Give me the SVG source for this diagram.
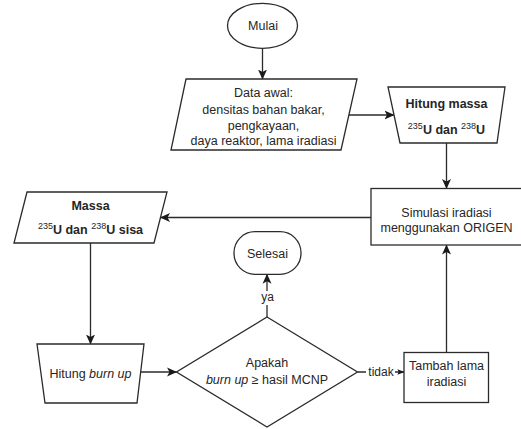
<svg xmlns="http://www.w3.org/2000/svg" width="521" height="429" viewBox="0 0 521 429">
<style>
.s{fill:#fff;stroke:#2b2b2b;stroke-width:1.3}
.c{fill:none;stroke:#2b2b2b;stroke-width:1.3}
text{font-family:"Liberation Sans",Arial,sans-serif;font-size:12.5px;fill:#262626;text-anchor:middle}
.b{font-weight:bold}
.sup{font-size:9px;font-weight:normal}
.lbl{font-size:12px}
</style>
<defs>
<marker id="ah" viewBox="0 0 10 10" refX="9.5" refY="5" markerWidth="10" markerHeight="10" markerUnits="userSpaceOnUse" orient="auto">
<path d="M0,0.5 L10,5 L0,9.5 L2.5,5 z" fill="#1a1a1a"/>
</marker>
<marker id="ahs" viewBox="0 0 10 10" refX="9.5" refY="5" markerWidth="7" markerHeight="7" markerUnits="userSpaceOnUse" orient="auto">
<path d="M0,1 L10,5 L0,9 L2,5 z" fill="#1a1a1a"/>
</marker>
</defs>
<rect width="521" height="429" fill="#fff"/>
<g id="connectors">
<line class="c" x1="262.5" y1="48.3" x2="262.5" y2="79" marker-end="url(#ah)"/>
<line class="c" x1="349" y1="115" x2="394" y2="115" marker-end="url(#ah)"/>
<line class="c" x1="446.5" y1="143" x2="446.5" y2="188.5" marker-end="url(#ah)"/>
<line class="c" x1="371" y1="217.5" x2="160.5" y2="217.5" marker-end="url(#ah)"/>
<line class="c" x1="90.5" y1="243" x2="90.5" y2="344" marker-end="url(#ah)"/>
<line class="c" x1="140.7" y1="372" x2="176.5" y2="372" marker-end="url(#ah)"/>
<line class="c" x1="267" y1="317" x2="267" y2="274.3" marker-end="url(#ah)"/>
<line class="c" x1="357.5" y1="372" x2="404" y2="372" marker-end="url(#ahs)"/>
<line class="c" x1="446.5" y1="352.5" x2="446.5" y2="245" marker-end="url(#ah)"/>
<rect x="259" y="291" width="17" height="14" fill="#fff"/>
<text class="lbl" x="267.5" y="301">ya</text>
<rect x="366" y="365" width="29" height="14" fill="#fff"/>
<text class="lbl" x="381" y="376">tidak</text>
</g>
<g id="mulai">
<ellipse class="s" cx="262.5" cy="25.8" rx="35" ry="22.5"/>
<text x="263" y="30">Mulai</text>
</g>
<g id="data-awal">
<polygon class="s" points="186,79 357,79 341,150 171,150"/>
<text x="263.5" y="97">Data awal:</text>
<text x="263.5" y="113.5">densitas bahan bakar,</text>
<text x="263.5" y="129.5">pengkayaan,</text>
<text x="263.5" y="145">daya reaktor, lama iradiasi</text>
</g>
<g id="hitung-massa">
<polygon class="s" points="388,87 505,87 497,143 400,143"/>
<text class="b" x="446.5" y="108">Hitung massa</text>
<text class="b" x="446.5" y="133.5"><tspan class="sup" dy="-5">235</tspan><tspan dy="5">U dan </tspan><tspan class="sup" dy="-5">238</tspan><tspan dy="5">U</tspan></text>
</g>
<g id="simulasi">
<rect class="s" x="371" y="188.5" width="152" height="56.5"/>
<text x="446.5" y="216.5">Simulasi iradiasi</text>
<text x="446.5" y="232">menggunakan ORIGEN</text>
</g>
<g id="massa-sisa">
<polygon class="s" points="27,192 167,192 154,243 14,243"/>
<text class="b" x="90.5" y="210">Massa</text>
<text class="b" x="90.5" y="233.5"><tspan class="sup" dy="-5">235</tspan><tspan dy="5">U dan </tspan><tspan class="sup" dy="-5">238</tspan><tspan dy="5">U sisa</tspan></text>
</g>
<g id="selesai">
<rect class="s" x="234" y="231.7" width="67" height="42.6" rx="21" ry="21"/>
<text x="267.5" y="258">Selesai</text>
</g>
<g id="hitung-burnup">
<polygon class="s" points="37,344 144,344 137,403 45,403"/>
<text x="90.5" y="378">Hitung <tspan font-style="italic">burn up</tspan></text>
</g>
<g id="keputusan">
<polygon class="s" points="267,317 357.5,372 267,427 176.5,372"/>
<text x="267" y="367">Apakah</text>
<text x="267" y="384"><tspan font-style="italic">burn up</tspan> ≥ hasil MCNP</text>
</g>
<g id="tambah">
<rect class="s" x="404" y="352.5" width="84.5" height="50"/>
<text x="446.5" y="370">Tambah lama</text>
<text x="446.5" y="385.5">iradiasi</text>
</g>
</svg>
